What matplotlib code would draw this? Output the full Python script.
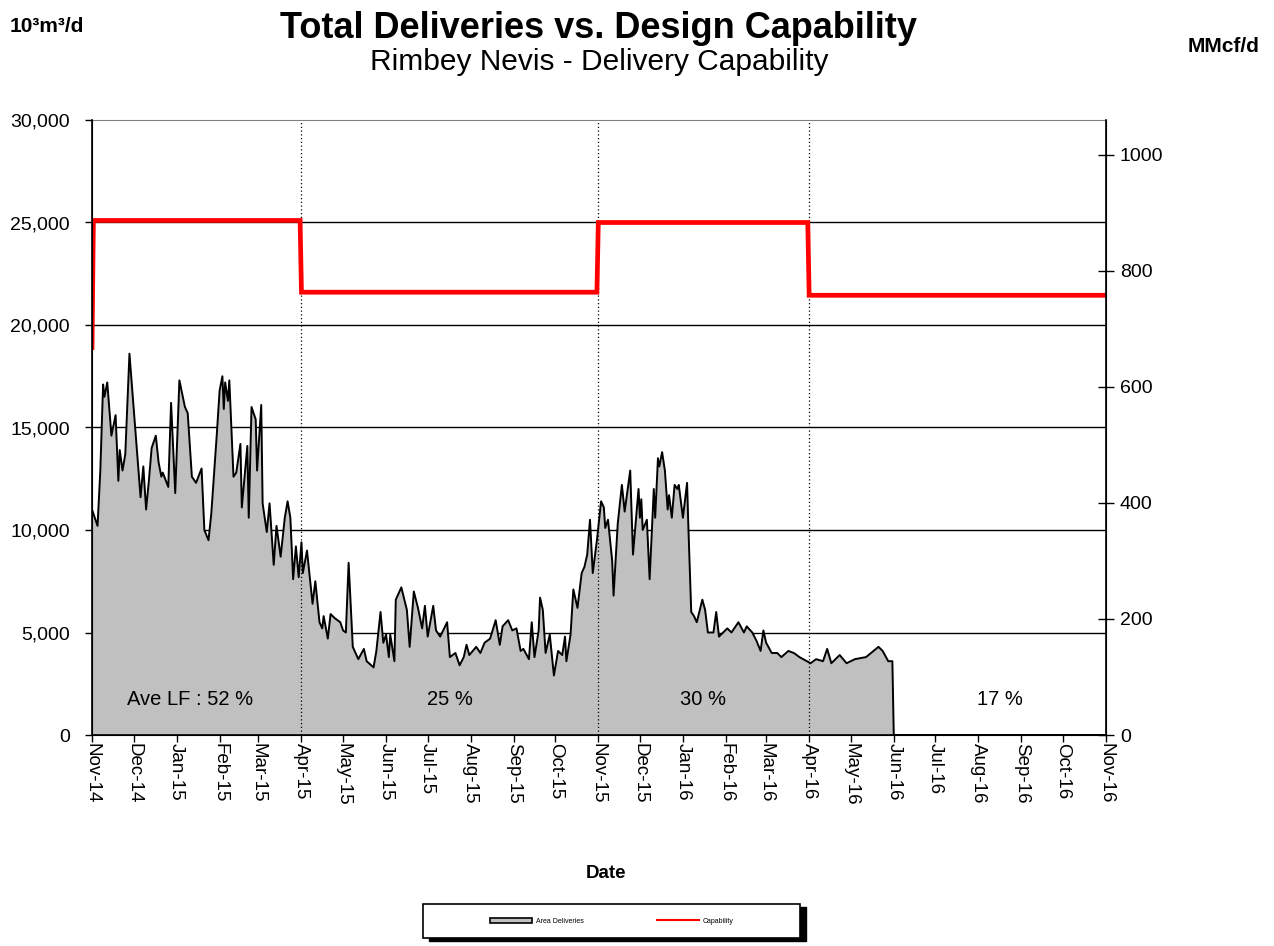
import matplotlib
matplotlib.use("Agg")
import matplotlib.pyplot as plt
import matplotlib.dates as mdates
from matplotlib.patches import Rectangle, Patch
from matplotlib.lines import Line2D
import numpy as np

plt.rcParams['font.family'] = ['Liberation Sans', 'DejaVu Sans']

START = np.datetime64('2014-11-01')

# daily area deliveries (10^3 m3/d); day offsets from 1 Nov 2014
delivery_day = [0, 4, 6, 8, 9, 11, 14, 17, 19, 20, 22, 24, 27, 30, 32, 35, 37, 39, 41, 43,
                46, 48, 50, 51, 55, 57, 60, 63, 67, 69, 72, 75, 79, 81, 84, 86, 90, 92, 94, 95,
                96, 98, 99, 102, 104, 107, 108, 112, 113, 115, 118, 119, 122, 123, 126, 128, 131, 133, 136, 139,
                141, 143, 145, 147, 149, 151, 152, 155, 159, 161, 164, 166, 167, 170, 172, 175, 179, 181, 183, 185,
                188, 192, 196, 198, 203, 205, 208, 210, 212, 214, 215, 218, 219, 223, 227, 229, 232, 235, 238, 240,
                242, 246, 248, 251, 256, 258, 262, 265, 268, 270, 272, 277, 280, 283, 287, 291, 294, 296, 300, 303,
                306, 309, 311, 315, 317, 319, 322, 323, 325, 327, 330, 333, 336, 339, 341, 342, 345, 347, 350, 353,
                355, 357, 359, 361, 364, 367, 369, 370, 372, 375, 376, 379, 382, 384, 388, 390, 394, 395, 396, 397,
                400, 402, 405, 406, 408, 409, 411, 413, 415, 416, 418, 420, 422, 423, 426, 429, 430, 432, 434, 436,
                440, 442, 444, 448, 450, 452, 458, 461, 466, 470, 472, 476, 479, 482, 484, 486, 490, 494, 497, 502,
                506, 510, 518, 522, 527, 530, 533, 539, 544, 550, 558, 567, 570, 574, 577, 578, 731]
delivery_val = [11000, 10200, 12900, 17100, 16500, 17200, 14600, 15600, 12400, 13900, 12900, 13700, 18600, 16000, 14200, 11600, 13100, 11000, 12400, 14000,
                14600, 13300, 12600, 12800, 12100, 16200, 11800, 17300, 16000, 15700, 12600, 12300, 13000, 10000, 9500, 10800, 14700, 16800, 17500, 15900,
                17200, 16300, 17300, 12600, 12800, 14200, 11100, 14100, 10600, 16000, 15400, 12900, 16100, 11300, 9900, 11300, 8300, 10200, 8700, 10600,
                11400, 10600, 7600, 9200, 7700, 9400, 7900, 9000, 6400, 7500, 5500, 5200, 5800, 4700, 5900, 5700, 5500, 5100, 5000, 8400,
                4300, 3700, 4200, 3600, 3300, 4100, 6000, 4500, 4900, 3800, 4900, 3600, 6600, 7200, 6100, 4300, 7000, 6200, 5200, 6300,
                4800, 6300, 5100, 4800, 5500, 3800, 4000, 3400, 3800, 4400, 3900, 4300, 4000, 4500, 4700, 5600, 4400, 5300, 5600, 5100,
                5200, 4100, 4200, 3700, 5500, 3800, 5100, 6700, 6100, 4000, 4900, 2900, 4100, 3900, 4800, 3600, 4900, 7100, 6200, 7900,
                8200, 8800, 10500, 7900, 9500, 11400, 11100, 10100, 10500, 8500, 6800, 10300, 12200, 10900, 12900, 8800, 12000, 10600, 11500, 10000,
                10500, 7600, 12000, 10600, 13500, 13100, 13800, 12900, 11000, 11700, 10600, 12200, 12000, 12200, 10600, 12300, 10000, 6000, 5800, 5500,
                6600, 6100, 5000, 5000, 6000, 4800, 5200, 5000, 5500, 5000, 5300, 5000, 4600, 4100, 5100, 4500, 4000, 4000, 3800, 4100,
                4000, 3800, 3500, 3700, 3600, 4200, 3500, 3900, 3500, 3700, 3800, 4300, 4100, 3600, 3600, 0, 0]

# design capability steps
cap_day = [0, 1, 150, 151, 364, 365, 516, 517, 731]
cap_val = [18900, 25100, 25100, 21600, 21600, 25000, 25000, 21450, 21450]

# season boundaries (Apr-15, Nov-15, Apr-16) and load factor labels
season_day = [151, 365, 517]
lf_labels = ["Ave LF : 52 %", "25 %", "30 %", "17 %"]
lf_xfrac = [0.097, 0.353, 0.603, 0.895]

M3_TO_MMCF = 0.0353147

d_dates = START + np.array(delivery_day).astype('timedelta64[D]')
c_dates = START + np.array(cap_day).astype('timedelta64[D]')
s_dates = START + np.array(season_day).astype('timedelta64[D]')
month_ticks = np.arange(np.datetime64('2014-11'), np.datetime64('2016-12'), 1).astype('datetime64[D]')

fig = plt.figure(figsize=(12.74, 9.46), dpi=100)
ax = fig.add_axes([92 / 1274, 1 - 735 / 946, 1014 / 1274, 615 / 946])

for y in range(5000, 30000, 5000):
    ax.axhline(y, color='black', lw=1.0, zorder=1)

ax.fill_between(d_dates, delivery_val, 0, color='#C0C0C0', lw=0, zorder=2)
ax.plot(d_dates, delivery_val, color='black', lw=1.4, zorder=3)
for d in s_dates:
    ax.axvline(d, color='black', lw=0.9, ls=(0, (1, 2)), zorder=4)
ax.plot(c_dates, cap_val, color='#FF0000', lw=3.4, zorder=5, solid_joinstyle='miter')

ax.set_xlim(START, START + np.timedelta64(731, 'D'))
ax.set_ylim(0, 30000)
ax.set_yticks(range(0, 30001, 5000))
ax.set_yticklabels([f"{v:,}" for v in range(0, 30001, 5000)], fontsize=14)
ax.set_xticks(month_ticks)
ax.set_xticklabels([mdates.num2date(mdates.date2num(m)).strftime('%b-%y') for m in month_ticks],
                   rotation=270, fontsize=13.5, va='top', ha='center')
ax.tick_params(axis='y', direction='out', length=5, width=1, pad=11)
ax.tick_params(axis='x', direction='out', length=5, width=1, pad=1)
ax.spines['top'].set_color('#808080')
for s in ['left', 'bottom']:
    ax.spines[s].set_linewidth(1.2)

ax2 = ax.twinx()
ax2.set_ylim(0, 30000 * M3_TO_MMCF)
ax2.set_yticks(range(0, 1001, 200))
ax2.set_yticklabels([str(v) for v in range(0, 1001, 200)], fontsize=14)
ax2.tick_params(axis='y', direction='inout', length=12, width=1, pad=4)
ax2.spines['top'].set_visible(False)
ax2.spines['right'].set_linewidth(1.2)

for lbl, xf in zip(lf_labels, lf_xfrac):
    ax.text(xf, 0.057, lbl, transform=ax.transAxes, ha='center', va='center', fontsize=14.5, zorder=6)

fig.text(598 / 1274, 1 - 29 / 946, "Total Deliveries vs. Design Capability", ha='center', va='center',
         fontsize=26, fontweight='bold')
fig.text(599 / 1274, 1 - 62 / 946, "Rimbey Nevis - Delivery Capability", ha='center', va='center', fontsize=21.5)
fig.text(10 / 1274, 1 - 26 / 946, "10³m³/d", ha='left', va='center', fontsize=15, fontweight='bold')
fig.text(1188 / 1274, 1 - 46 / 946, "MMcf/d", ha='left', va='center', fontsize=15, fontweight='bold')
fig.text(606 / 1274, 1 - 873 / 946, "Date", ha='center', va='center', fontsize=13.5, fontweight='bold')

# legend box with shadow
bx0, by0, bw, bh = 423, 904, 377, 34
fig.patches.append(Rectangle(((bx0 + 6) / 1274, 1 - (by0 + bh + 3) / 946), bw / 1274, bh / 946,
                             transform=fig.transFigure, facecolor='black', edgecolor='black', zorder=1))
fig.patches.append(Rectangle((bx0 / 1274, 1 - (by0 + bh) / 946), bw / 1274, bh / 946,
                             transform=fig.transFigure, facecolor='white', edgecolor='black', lw=1.2, zorder=2))
handles = [Patch(facecolor='#C0C0C0', edgecolor='black', lw=1.2),
           Line2D([], [], color='#FF0000', lw=1.5)]
leg = fig.legend(handles, ['Area Deliveries', 'Capability'], loc='center',
                 bbox_to_anchor=(612 / 1274, 1 - 921 / 946), ncol=2, frameon=False, fontsize=5,
                 handlelength=6, handleheight=0.7, handletextpad=0.6, columnspacing=10.5)
leg.set_zorder(3)

fig.savefig('out.png', dpi=100)
